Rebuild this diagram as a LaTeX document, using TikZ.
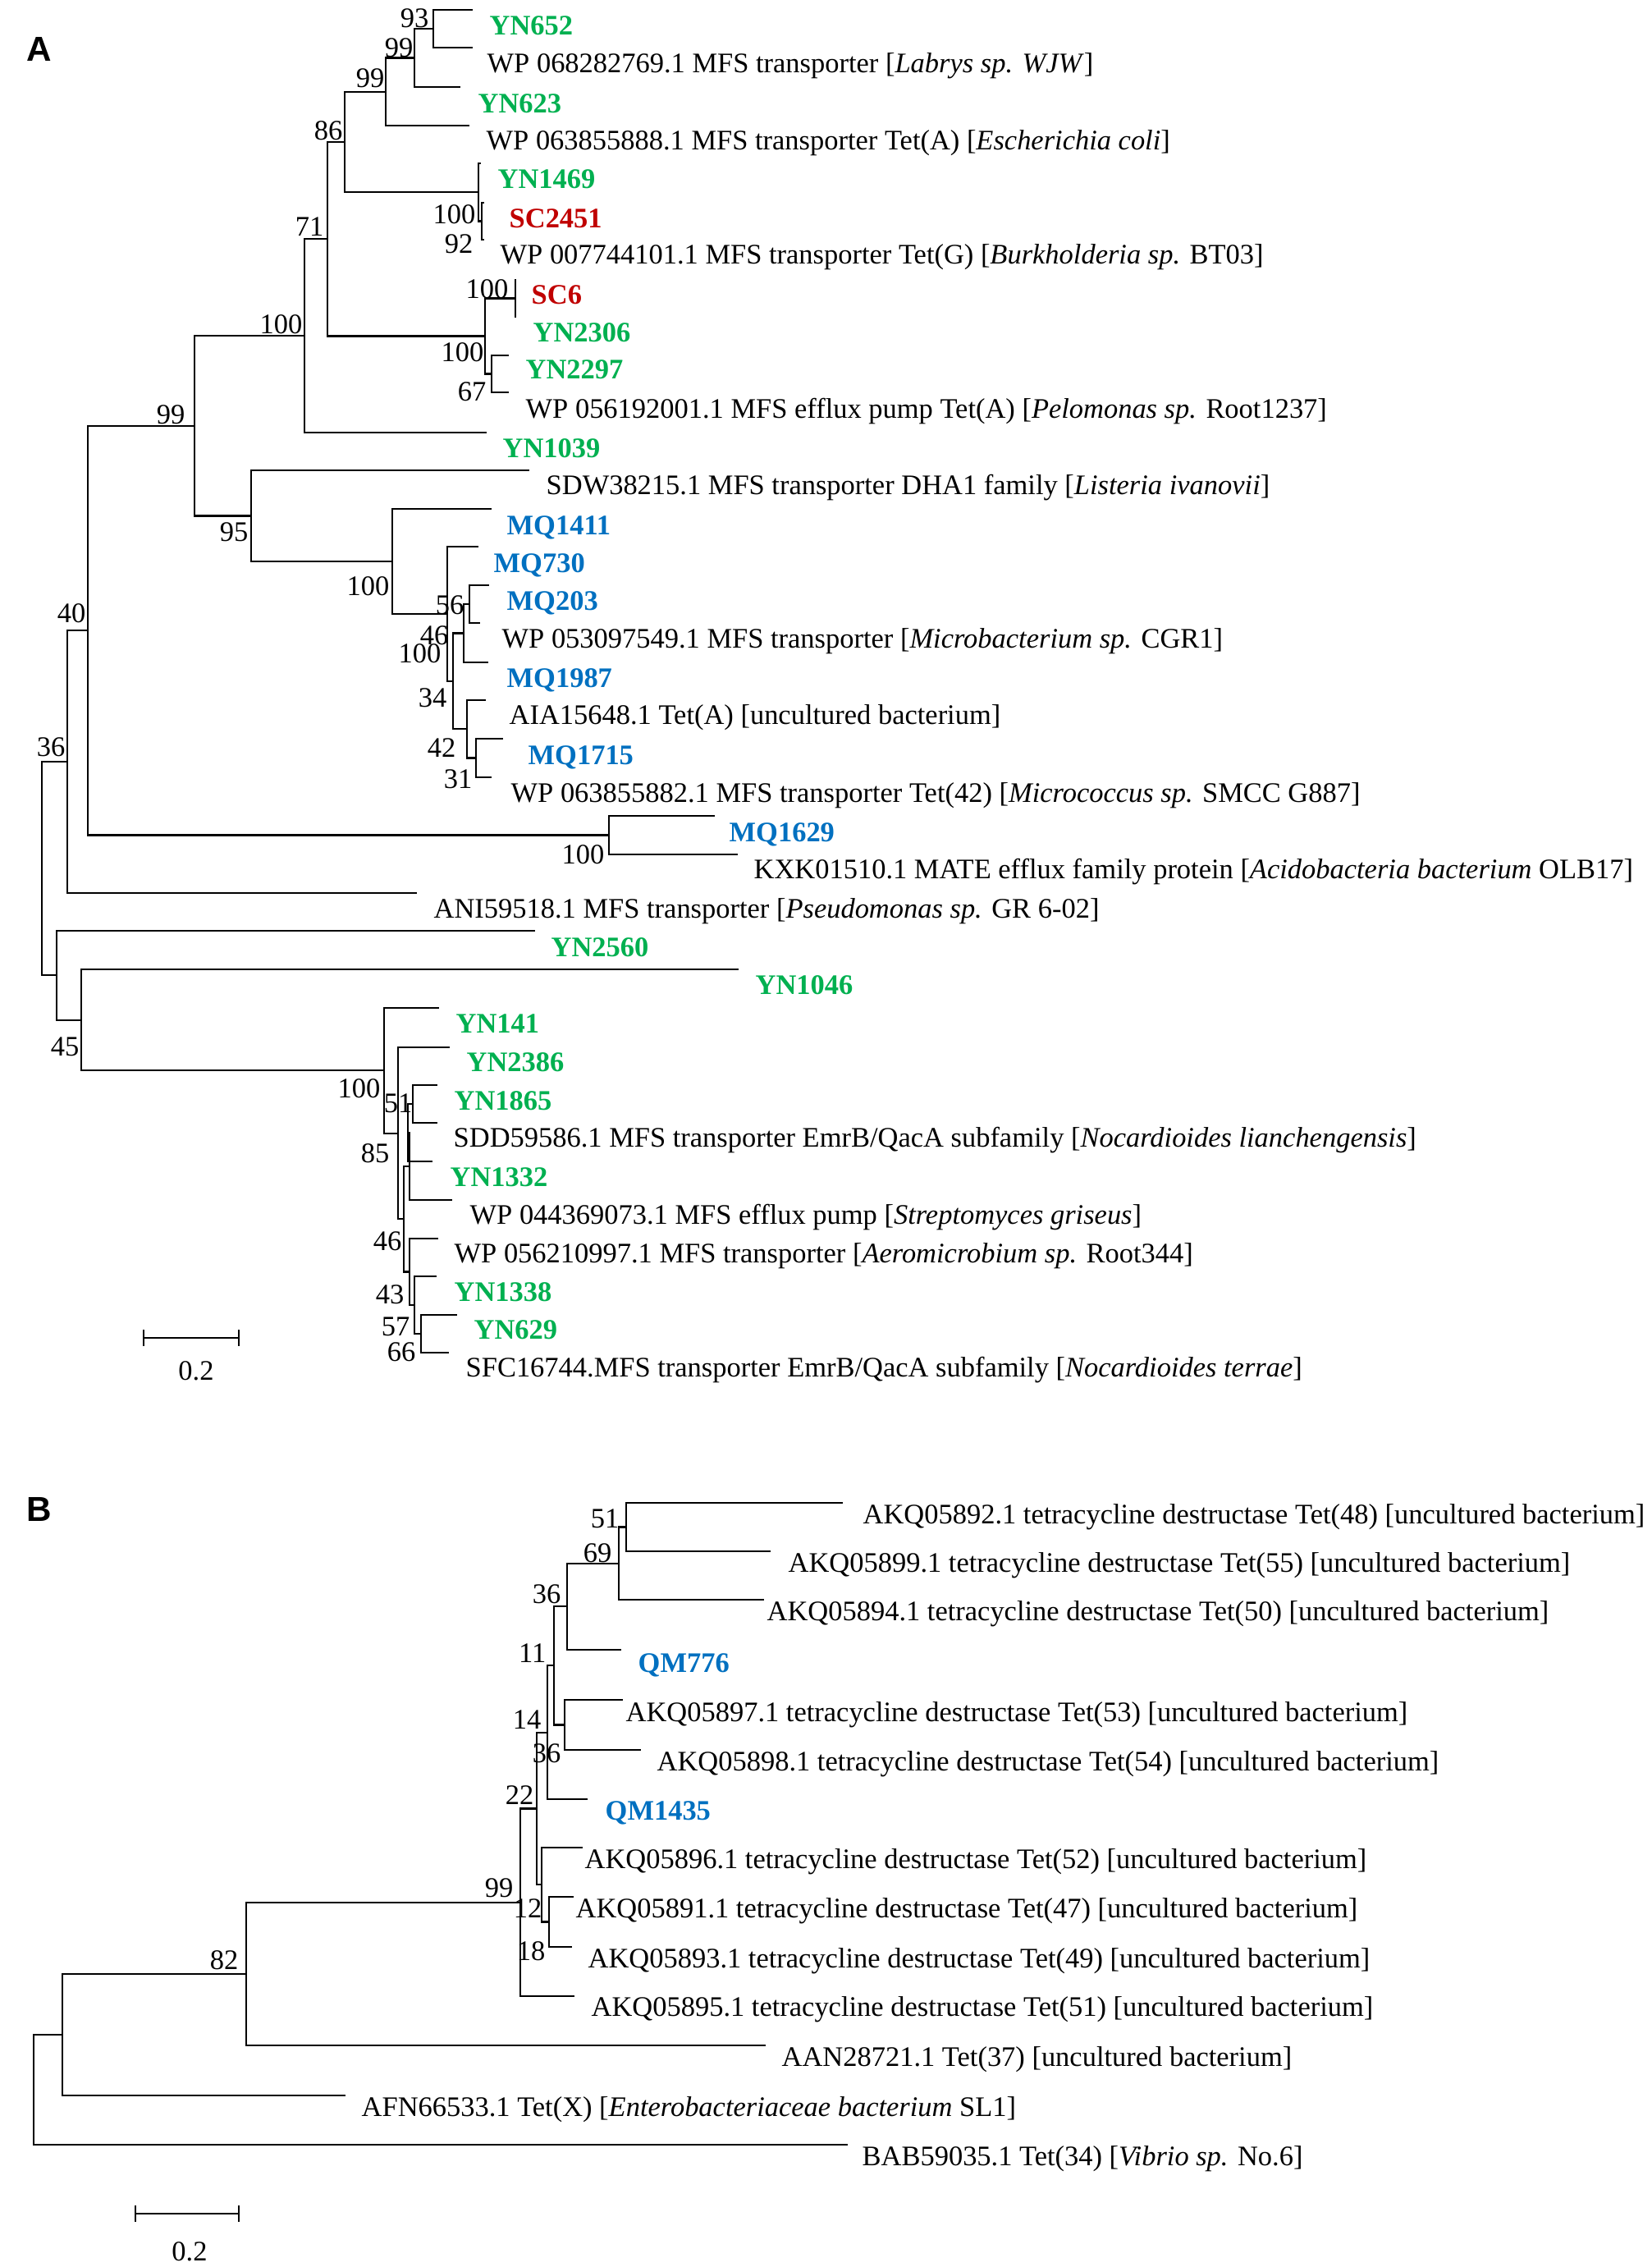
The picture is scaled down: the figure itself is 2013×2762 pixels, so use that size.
\documentclass[tikz,border=0pt]{standalone}
\usepackage{fontspec}
\setmainfont{Liberation Serif}
\newfontfamily\panelfont{Liberation Sans}
\definecolor{yngreen}{HTML}{00B050}
\definecolor{scred}{HTML}{C00000}
\definecolor{mqblue}{HTML}{0070C0}
\begin{document}
\begin{tikzpicture}[x=0.01cm,y=-0.01cm,
		branch/.style={line width=0.6pt},
		leaf/.style={anchor=base west,inner sep=0pt,font=\fontsize{9.8}{11}\selectfont},
		yn/.style={leaf,font=\fontsize{9.8}{11}\selectfont\bfseries,text=yngreen},
		sc/.style={yn,text=scred},
		mq/.style={yn,text=mqblue},
		boot/.style={anchor=base east,inner sep=0pt,font=\fontsize{9.8}{11}\selectfont},
		panel/.style={inner sep=0pt,font=\fontsize{12}{14}\selectfont\panelfont\bfseries}]
	\useasboundingbox (0,0) rectangle (2013,2762);
	\node[panel] (pA) at (48,60) {A};
	\node[panel] (pB) at (48,1839) {B};

	% panel A, tips
	\coordinate (tYN652) at (576,12);
	\coordinate (tWP0682) at (576,58);
	\coordinate (tYN623) at (561,106);
	\coordinate (tWP0638) at (572,153);
	\coordinate (tYN1469) at (586,199);
	\coordinate (tSC2451) at (590,247);
	\coordinate (tWP0077) at (590,292);
	\coordinate (tSC6) at (628,340);
	\coordinate (tYN2306) at (628,387);
	\coordinate (tYN2297) at (620,433);
	\coordinate (tWP0561) at (620,478);
	\coordinate (tYN1039) at (593,527);
	\coordinate (tSDW) at (645,573);
	\coordinate (tMQ1411) at (599,620);
	\coordinate (tMQ730) at (583,666);
	\coordinate (tMQ203) at (596,713);
	\coordinate (tWP0530) at (585,759);
	\coordinate (tMQ1987) at (595,807);
	\coordinate (tAIA) at (592,853);
	\coordinate (tMQ1715) at (613,900);
	\coordinate (tWP0638552) at (599,947);
	\coordinate (tMQ1629) at (871,994);
	\coordinate (tKXK) at (899,1041);
	\coordinate (tANI) at (508,1088);
	\coordinate (tYN2560) at (652,1134);
	\coordinate (tYN1046) at (900,1181);
	\coordinate (tYN141) at (535,1228);
	\coordinate (tYN2386) at (548,1276);
	\coordinate (tYN1865) at (533,1322);
	\coordinate (tSDD) at (533,1368);
	\coordinate (tYN1332) at (527,1415);
	\coordinate (tWP044) at (551,1462);
	\coordinate (tWP0562) at (534,1509);
	\coordinate (tYN1338) at (532,1555);
	\coordinate (tYN629) at (557,1602);
	\coordinate (tSFC) at (547,1648);

	% panel A, inner nodes
	\coordinate (n93) at (528,35);
	\coordinate (n99a) at (505,70.5);
	\coordinate (n99b) at (470,111.75);
	\coordinate (nB) at (587,269.5);
	\coordinate (nA) at (583,234.25);
	\coordinate (n86) at (420,173);
	\coordinate (nD) at (628,363.5);
	\coordinate (nE) at (599,455.5);
	\coordinate (nC) at (591,409.5);
	\coordinate (n71) at (399,291.25);
	\coordinate (n100a) at (371,409.1);
	\coordinate (na) at (572,736);
	\coordinate (nb) at (565,771.5);
	\coordinate (nc) at (580,923.5);
	\coordinate (nd) at (569,888.25);
	\coordinate (ne) at (552,829.9);
	\coordinate (nf) at (545,747.9);
	\coordinate (nMQ) at (478,684);
	\coordinate (n95) at (306,628.5);
	\coordinate (n99t) at (237,518.8);
	\coordinate (nMQ1629) at (742,1017.5);
	\coordinate (n40) at (107,768.1);
	\coordinate (n36) at (82,928);
	\coordinate (ns) at (503,1345);
	\coordinate (nx) at (497,1380);
	\coordinate (nu) at (499,1421);
	\coordinate (np) at (513,1625);
	\coordinate (nq) at (505,1590);
	\coordinate (nr) at (499,1549.5);
	\coordinate (nh) at (492,1485.25);
	\coordinate (ng) at (485,1380.6);
	\coordinate (nYN) at (468,1304.3);
	\coordinate (n45) at (99,1242.7);
	\coordinate (nYN2560) at (69,1188.3);
	\coordinate (rootA) at (51,1058);

	\draw[branch] (n93) |- (tYN652) (n93) |- (tWP0682);
	\draw[branch] (n99a) |- (n93) (n99a) |- (tYN623);
	\draw[branch] (n99b) |- (n99a) (n99b) |- (tWP0638);
	\draw[branch] (nB) |- (tSC2451) (nB) |- (tWP0077);
	\draw[branch] (nA) |- (tYN1469) (nA) |- (nB);
	\draw[branch] (n86) |- (n99b) (n86) |- (nA);
	\draw[branch] (nD) |- (tSC6) (nD) |- (tYN2306);
	\draw[branch] (nE) |- (tYN2297) (nE) |- (tWP0561);
	\draw[branch] (nC) |- (nD) (nC) |- (nE);
	\draw[branch] (n71) |- (n86) (n71) |- (nC);
	\draw[branch] (n100a) |- (n71) (n100a) |- (tYN1039);
	\draw[branch] (na) |- (tMQ203) (na) |- (tWP0530);
	\draw[branch] (nb) |- (na) (nb) |- (tMQ1987);
	\draw[branch] (nc) |- (tMQ1715) (nc) |- (tWP0638552);
	\draw[branch] (nd) |- (tAIA) (nd) |- (nc);
	\draw[branch] (ne) |- (nb) (ne) |- (nd);
	\draw[branch] (nf) |- (tMQ730) (nf) |- (ne);
	\draw[branch] (nMQ) |- (tMQ1411) (nMQ) |- (nf);
	\draw[branch] (n95) |- (tSDW) (n95) |- (nMQ);
	\draw[branch] (n99t) |- (n100a) (n99t) |- (n95);
	\draw[branch] (nMQ1629) |- (tMQ1629) (nMQ1629) |- (tKXK);
	\draw[branch] (n40) |- (n99t) (n40) |- (nMQ1629);
	\draw[branch] (n36) |- (n40) (n36) |- (tANI);
	\draw[branch] (ns) |- (tYN1865) (ns) |- (tSDD);
	\draw[branch] (nx) |- (ns) (nx) |- (tYN1332);
	\draw[branch] (nu) |- (nx) (nu) |- (tWP044);
	\draw[branch] (np) |- (tYN629) (np) |- (tSFC);
	\draw[branch] (nq) |- (tYN1338) (nq) |- (np);
	\draw[branch] (nr) |- (tWP0562) (nr) |- (nq);
	\draw[branch] (nh) |- (nu) (nh) |- (nr);
	\draw[branch] (ng) |- (tYN2386) (ng) |- (nh);
	\draw[branch] (nYN) |- (tYN141) (nYN) |- (ng);
	\draw[branch] (n45) |- (tYN1046) (n45) |- (nYN);
	\draw[branch] (nYN2560) |- (tYN2560) (nYN2560) |- (n45);
	\draw[branch] (rootA) |- (n36) (rootA) |- (nYN2560);

	\node[yn] (lYN652) at (596,42) {YN652};
	\node[leaf] (lWP0682) at (593,88) {WP 068282769.1 MFS transporter [\textit{Labrys sp. WJW}]};
	\node[yn] (lYN623) at (582,137) {YN623};
	\node[leaf] (lWP0638) at (592,182) {WP 063855888.1 MFS transporter Tet(A) [\textit{Escherichia coli}]};
	\node[yn] (lYN1469) at (606,229) {YN1469};
	\node[sc] (lSC2451) at (620,277) {SC2451};
	\node[leaf] (lWP0077) at (609,321) {WP 007744101.1 MFS transporter Tet(G) [\textit{Burkholderia sp.} BT03]};
	\node[sc] (lSC6) at (647,370) {SC6};
	\node[yn] (lYN2306) at (649,416) {YN2306};
	\node[yn] (lYN2297) at (640,461) {YN2297};
	\node[leaf] (lWP0561) at (640,509) {WP 056192001.1 MFS efflux pump Tet(A) [\textit{Pelomonas sp.} Root1237]};
	\node[yn] (lYN1039) at (612,557) {YN1039};
	\node[leaf] (lSDW) at (665,602) {SDW38215.1 MFS transporter DHA1 family [\textit{Listeria ivanovii}]};
	\node[mq] (lMQ1411) at (617,651) {MQ1411};
	\node[mq] (lMQ730) at (601,697) {MQ730};
	\node[mq] (lMQ203) at (617,743) {MQ203};
	\node[leaf] (lWP0530) at (611,789) {WP 053097549.1 MFS transporter [\textit{Microbacterium sp.} CGR1]};
	\node[mq] (lMQ1987) at (617,837) {MQ1987};
	\node[leaf] (lAIA) at (620,882) {AIA15648.1 Tet(A) [uncultured bacterium]};
	\node[mq] (lMQ1715) at (643,931) {MQ1715};
	\node[leaf] (lWP0638552) at (622,977) {WP 063855882.1 MFS transporter Tet(42) [\textit{Micrococcus sp.} SMCC G887]};
	\node[mq] (lMQ1629) at (888,1025) {MQ1629};
	\node[leaf] (lKXK) at (918,1070) {KXK01510.1 MATE efflux family protein [\textit{Acidobacteria bacterium} OLB17]};
	\node[leaf] (lANI) at (528,1118) {ANI59518.1 MFS transporter [\textit{Pseudomonas sp.} GR 6-02]};
	\node[yn] (lYN2560) at (671,1165) {YN2560};
	\node[yn] (lYN1046) at (920,1211) {YN1046};
	\node[yn] (lYN141) at (555,1258) {YN141};
	\node[yn] (lYN2386) at (568,1305) {YN2386};
	\node[yn] (lYN1865) at (553,1352) {YN1865};
	\node[leaf] (lSDD) at (552,1397) {SDD59586.1 MFS transporter EmrB/QacA subfamily [\textit{Nocardioides lianchengensis}]};
	\node[yn] (lYN1332) at (548,1445) {YN1332};
	\node[leaf] (lWP044) at (572,1491) {WP 044369073.1 MFS efflux pump [\textit{Streptomyces griseus}]};
	\node[leaf] (lWP0562) at (553,1538) {WP 056210997.1 MFS transporter [\textit{Aeromicrobium sp.} Root344]};
	\node[yn] (lYN1338) at (553,1585) {YN1338};
	\node[yn] (lYN629) at (577,1631) {YN629};
	\node[leaf] (lSFC) at (567,1677) {SFC16744.MFS transporter EmrB/QacA subfamily [\textit{Nocardioides terrae}]};

	\node[boot] (b93) at (523,33) {93};
	\node[boot] (b99a) at (504,69) {99};
	\node[boot] (b99b) at (469,106) {99};
	\node[boot] (b86) at (418,170) {86};
	\node[boot] (bA) at (580,272) {100};
	\node[boot] (bB) at (577,308) {92};
	\node[boot] (b71) at (395,287) {71};
	\node[boot] (bD) at (620,363) {100};
	\node[boot] (bC) at (590,440) {100};
	\node[boot] (bE) at (593,488) {67};
	\node[boot] (b100a) at (369,406) {100};
	\node[boot] (b99t) at (226,516) {99};
	\node[boot] (b95) at (303,659) {95};
	\node[boot] (bMQ) at (475,725) {100};
	\node[boot] (ba) at (566,748) {56};
	\node[boot] (bb) at (547,785) {46};
	\node[boot] (bf) at (538,807) {100};
	\node[boot] (be) at (545,861) {34};
	\node[boot] (bd) at (556,922) {42};
	\node[boot] (bc) at (576,960) {31};
	\node[boot] (bMQ1629) at (737,1052) {100};
	\node[boot] (b40) at (105,758) {40};
	\node[boot] (b36) at (80,921) {36};
	\node[boot] (b45) at (97,1286) {45};
	\node[boot] (bYN) at (464,1337) {100};
	\node[boot] (bs) at (503,1355) {51};
	\node[boot] (bg) at (475,1416) {85};
	\node[boot] (bh) at (490,1523) {46};
	\node[boot] (br) at (493,1588) {43};
	\node[boot] (bq) at (500,1627) {57};
	\node[boot] (bp) at (507,1658) {66};

	\coordinate (sbA1) at (175,1630);
	\coordinate (sbA2) at (291,1630);
	\draw[branch] (sbA1) -- (sbA2) ([shift={(0,-10)}]sbA1) -- ([shift={(0,10)}]sbA1) ([shift={(0,-10)}]sbA2) -- ([shift={(0,10)}]sbA2);
	\node[leaf,anchor=center] (sbA) at (239,1670) {0.2};

	% panel B, tips
	\coordinate (tAKQ05892) at (1027,1831);
	\coordinate (tAKQ05899) at (939,1890);
	\coordinate (tAKQ05894) at (931,1949);
	\coordinate (tQM776) at (757,2010);
	\coordinate (tAKQ05897) at (759,2071);
	\coordinate (tAKQ05898) at (781,2132);
	\coordinate (tQM1435) at (716,2192);
	\coordinate (tAKQ05896) at (710,2251);
	\coordinate (tAKQ05891) at (699,2311);
	\coordinate (tAKQ05893) at (697,2372);
	\coordinate (tAKQ05895) at (700,2432);
	\coordinate (tAAN) at (933,2492);
	\coordinate (tAFN) at (421,2553);
	\coordinate (tBAB) at (1033,2613);

	% panel B, inner nodes
	\coordinate (n51) at (763,1860.5);
	\coordinate (n69) at (754,1904.75);
	\coordinate (n36u) at (691,1957.4);
	\coordinate (n36l) at (688,2101.5);
	\coordinate (n11) at (675,2029.4);
	\coordinate (n14) at (667,2110.7);
	\coordinate (n18) at (669,2341.5);
	\coordinate (n12) at (660,2296.2);
	\coordinate (n22) at (654,2203.5);
	\coordinate (n99B) at (634,2317.7);
	\coordinate (n82) at (300,2404.9);
	\coordinate (nAFN) at (76,2478.9);
	\coordinate (rootB) at (41,2546);

	\draw[branch] (n51) |- (tAKQ05892) (n51) |- (tAKQ05899);
	\draw[branch] (n69) |- (n51) (n69) |- (tAKQ05894);
	\draw[branch] (n36u) |- (n69) (n36u) |- (tQM776);
	\draw[branch] (n36l) |- (tAKQ05897) (n36l) |- (tAKQ05898);
	\draw[branch] (n11) |- (n36u) (n11) |- (n36l);
	\draw[branch] (n14) |- (n11) (n14) |- (tQM1435);
	\draw[branch] (n18) |- (tAKQ05891) (n18) |- (tAKQ05893);
	\draw[branch] (n12) |- (tAKQ05896) (n12) |- (n18);
	\draw[branch] (n22) |- (n14) (n22) |- (n12);
	\draw[branch] (n99B) |- (n22) (n99B) |- (tAKQ05895);
	\draw[branch] (n82) |- (n99B) (n82) |- (tAAN);
	\draw[branch] (nAFN) |- (n82) (nAFN) |- (tAFN);
	\draw[branch] (rootB) |- (nAFN) (rootB) |- (tBAB);

	\node[leaf] (lAKQ05892) at (1051,1856) {AKQ05892.1 tetracycline destructase Tet(48) [uncultured bacterium]};
	\node[leaf] (lAKQ05899) at (960,1915) {AKQ05899.1 tetracycline destructase Tet(55) [uncultured bacterium]};
	\node[leaf] (lAKQ05894) at (934,1974) {AKQ05894.1 tetracycline destructase Tet(50) [uncultured bacterium]};
	\node[mq] (lQM776) at (777,2037) {QM776};
	\node[leaf] (lAKQ05897) at (762,2097) {AKQ05897.1 tetracycline destructase Tet(53) [uncultured bacterium]};
	\node[leaf] (lAKQ05898) at (800,2157) {AKQ05898.1 tetracycline destructase Tet(54) [uncultured bacterium]};
	\node[mq] (lQM1435) at (737,2217) {QM1435};
	\node[leaf] (lAKQ05896) at (712,2276) {AKQ05896.1 tetracycline destructase Tet(52) [uncultured bacterium]};
	\node[leaf] (lAKQ05891) at (701,2336) {AKQ05891.1 tetracycline destructase Tet(47) [uncultured bacterium]};
	\node[leaf] (lAKQ05893) at (716,2397) {AKQ05893.1 tetracycline destructase Tet(49) [uncultured bacterium]};
	\node[leaf] (lAKQ05895) at (720,2456) {AKQ05895.1 tetracycline destructase Tet(51) [uncultured bacterium]};
	\node[leaf] (lAAN) at (952,2517) {AAN28721.1 Tet(37) [uncultured bacterium]};
	\node[leaf] (lAFN) at (440,2578) {AFN66533.1 Tet(X) [\textit{Enterobacteriaceae bacterium} SL1]};
	\node[leaf] (lBAB) at (1050,2638) {BAB59035.1 Tet(34) [\textit{Vibrio sp.} No.6]};

	\node[boot] (b51) at (755,1861) {51};
	\node[boot] (b69) at (746,1903) {69};
	\node[boot] (b36u) at (684,1953) {36};
	\node[boot] (b11) at (666,2025) {11};
	\node[boot] (b14) at (660,2106) {14};
	\node[boot] (b36l) at (684,2147) {36};
	\node[boot] (b22) at (651,2198) {22};
	\node[boot] (b99B) at (626,2311) {99};
	\node[boot] (b12) at (661,2336) {12};
	\node[boot] (b18) at (665,2388) {18};
	\node[boot] (b82) at (291,2399) {82};

	\coordinate (sbB1) at (165,2697);
	\coordinate (sbB2) at (291,2697);
	\draw[branch] (sbB1) -- (sbB2) ([shift={(0,-10)}]sbB1) -- ([shift={(0,10)}]sbB1) ([shift={(0,-10)}]sbB2) -- ([shift={(0,10)}]sbB2);
	\node[leaf,anchor=center] (sbB) at (231,2743) {0.2};
\end{tikzpicture}
\end{document}
